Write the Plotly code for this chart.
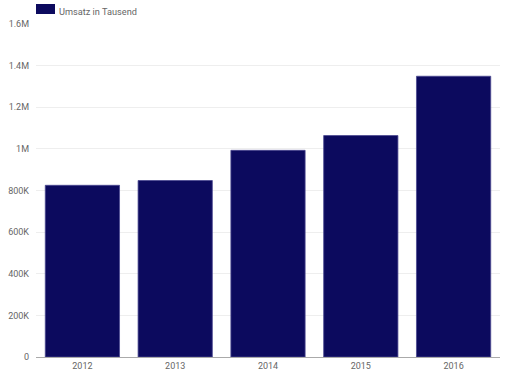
import plotly.graph_objects as go

years = ["2012", "2013", "2014", "2015", "2016"]
umsatz = [825000, 848000, 993000, 1064000, 1349000]
series_name = "Umsatz in Tausend"
y_tick_vals = [0, 200000, 400000, 600000, 800000, 1000000, 1200000, 1400000, 1600000]
y_tick_text = ["0", "200K", "400K", "600K", "800K", "1M", "1.2M", "1.4M", "1.6M"]

bar_color = "#0c0a5e"

fig = go.Figure()
fig.add_trace(go.Bar(
    x=years, y=umsatz, name=series_name,
    marker=dict(color=bar_color, line=dict(color="#4a4890", width=0.8)),
    showlegend=False,
))

fig.update_layout(
    width=509, height=374,
    margin=dict(l=36, r=9, t=24, b=17, autoexpand=False),
    paper_bgcolor="white", plot_bgcolor="white",
    bargap=0.2,
    font=dict(family="Roboto, Arial, sans-serif", size=9, color="#666666"),
    xaxis=dict(showgrid=False, showline=True, linecolor="#aaaaaa", linewidth=1,
               ticks="", automargin=False, tickfont=dict(size=9, color="#666666")),
    yaxis=dict(range=[0, 1600000], tickvals=y_tick_vals, ticktext=y_tick_text,
               showgrid=True, gridcolor="#eeeeee", gridwidth=1, zeroline=False,
               showline=False, ticks="", ticklabelstandoff=6, automargin=False,
               tickfont=dict(size=9, color="#666666")),
    shapes=[dict(type="rect", xref="paper", yref="paper",
                 x0=0, x1=19/464, y0=1 + 10/333, y1=1 + 20/333,
                 fillcolor=bar_color, line=dict(width=0))],
    annotations=[dict(text=series_name, xref="paper", yref="paper",
                      x=21/464, y=1 + 13/333, xanchor="left", yanchor="middle",
                      showarrow=False, font=dict(size=9.2, color="#666666"))],
)

fig.write_html("out.html", config={"displayModeBar": False},
               post_script="document.body.style.margin='0';document.body.style.overflow='hidden';")
